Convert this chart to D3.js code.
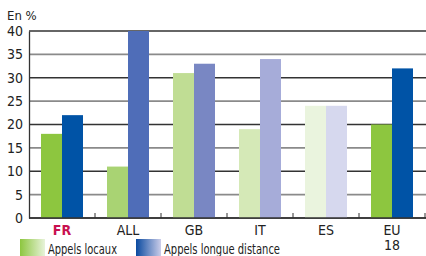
<!DOCTYPE html>
<html>
<head>
<meta charset="utf-8">
<script src="https://cdn.jsdelivr.net/npm/d3@7"></script>
<style>
  body { margin: 0; background: #fff; }
  svg text { font-family: "Liberation Sans Narrow", "DejaVu Sans Condensed", Roboto, sans-serif; }
</style>
</head>
<body>
<svg id="chart" width="426" height="256"></svg>
<script>
// données
const categories = ['FR', 'ALL', 'GB', 'IT', 'ES', 'EU\n18'];
const locaux = [18, 11, 31, 19, 24, 20];
const longueDistance = [22, 40, 33, 34, 24, 32];
const yTicks = [0, 5, 10, 15, 20, 25, 30, 35, 40];
const seriesNames = ['Appels locaux', 'Appels longue distance'];

// couleurs par pays (vert / bleu)
const greenColors = ['#8dc63f', '#a9d373', '#c0dd94', '#d5e9b7', '#eaf4de', '#8dc63f'];
const blueColors = ['#0053a6', '#4f6db8', '#7987c3', '#a6acd9', '#d6d8ee', '#0053a6'];

const W = 426, H = 256;
const margin = { left: 29, right: 1, top: 31, bottom: 38 };

const svg = d3.select('#chart');

const x = d3.scaleBand().domain(categories).range([margin.left, W - margin.right]);
const y = d3.scaleLinear().domain([0, 40]).range([H - margin.bottom, margin.top]);
const barW = 21;

// grille
svg.append('g').selectAll('line').data(yTicks).enter().append('line')
    .attr('x1', margin.left).attr('x2', W)
    .attr('y1', d => y(d)).attr('y2', d => y(d))
    .attr('stroke', d => d % 10 === 0 ? '#333' : '#8a8a8a')
    .attr('stroke-width', d => d % 10 === 0 ? 1.3 : 1.8);

// axe y
const yAxis = svg.append('g').attr('transform', `translate(${margin.left},0)`)
    .call(d3.axisLeft(y).tickValues(yTicks).tickSize(0).tickPadding(6));
yAxis.select('.domain').attr('stroke', '#333').attr('stroke-width', 1.3);
yAxis.selectAll('text').attr('font-size', 14).attr('fill', '#222');

svg.append('text').attr('x', 7).attr('y', 20)
    .attr('font-size', 13).attr('fill', '#222').text('En %');

// barres
const groups = svg.append('g').selectAll('g').data(categories).enter().append('g');
groups.append('rect')
    .attr('x', d => x(d) + x.bandwidth() / 2 - barW)
    .attr('y', (d, i) => y(locaux[i]))
    .attr('width', barW)
    .attr('height', (d, i) => y(0) - y(locaux[i]))
    .attr('fill', (d, i) => greenColors[i]);
groups.append('rect')
    .attr('x', d => x(d) + x.bandwidth() / 2)
    .attr('y', (d, i) => y(longueDistance[i]))
    .attr('width', barW)
    .attr('height', (d, i) => y(0) - y(longueDistance[i]))
    .attr('fill', (d, i) => blueColors[i]);

// axe x
svg.append('line').attr('x1', margin.left).attr('x2', W)
    .attr('y1', y(0)).attr('y2', y(0)).attr('stroke', '#333').attr('stroke-width', 1.6);
svg.append('g').selectAll('line').data(categories.slice(1).concat(['end'])).enter().append('line')
    .attr('x1', (d, i) => margin.left + x.step() * (i + 1))
    .attr('x2', (d, i) => margin.left + x.step() * (i + 1))
    .attr('y1', y(0)).attr('y2', y(0) - 5)
    .attr('stroke', '#333').attr('stroke-width', 1);

const labels = svg.append('g').selectAll('text').data(categories).enter().append('text')
    .attr('x', d => x(d) + x.bandwidth() / 2)
    .attr('y', y(0) + 17)
    .attr('text-anchor', 'middle')
    .attr('font-size', 14)
    .attr('fill', (d, i) => i === 0 ? '#c8104f' : '#222')
    .attr('font-weight', (d, i) => i === 0 ? 'bold' : 'normal');
labels.selectAll('tspan').data(d => d.split('\n')).enter().append('tspan')
    .attr('x', function () { return d3.select(this.parentNode).attr('x'); })
    .attr('dy', (d, i) => i === 0 ? 0 : 15)
    .text(d => d);

// légende
const defs = svg.append('defs');
const gradG = defs.append('linearGradient').attr('id', 'gradG');
gradG.append('stop').attr('offset', '0%').attr('stop-color', '#8dc63f');
gradG.append('stop').attr('offset', '100%').attr('stop-color', '#e8f3da');
const gradB = defs.append('linearGradient').attr('id', 'gradB');
gradB.append('stop').attr('offset', '0%').attr('stop-color', '#0a4aa0');
gradB.append('stop').attr('offset', '100%').attr('stop-color', '#cbcde9');

const legendX = [20, 136];
const legendTextW = [69, 116]; // largeur du texte (police étroite)
const legend = svg.append('g').selectAll('g').data(seriesNames).enter().append('g')
    .attr('transform', (d, i) => `translate(${legendX[i]},239)`);
legend.append('rect').attr('width', 25).attr('height', 20)
    .attr('fill', (d, i) => i === 0 ? 'url(#gradG)' : 'url(#gradB)');
legend.append('text').attr('x', 28).attr('y', 15)
    .attr('font-size', 14).attr('fill', '#222')
    .attr('textLength', (d, i) => legendTextW[i]).attr('lengthAdjust', 'spacingAndGlyphs')
    .text(d => d);
</script>
</body>
</html>
